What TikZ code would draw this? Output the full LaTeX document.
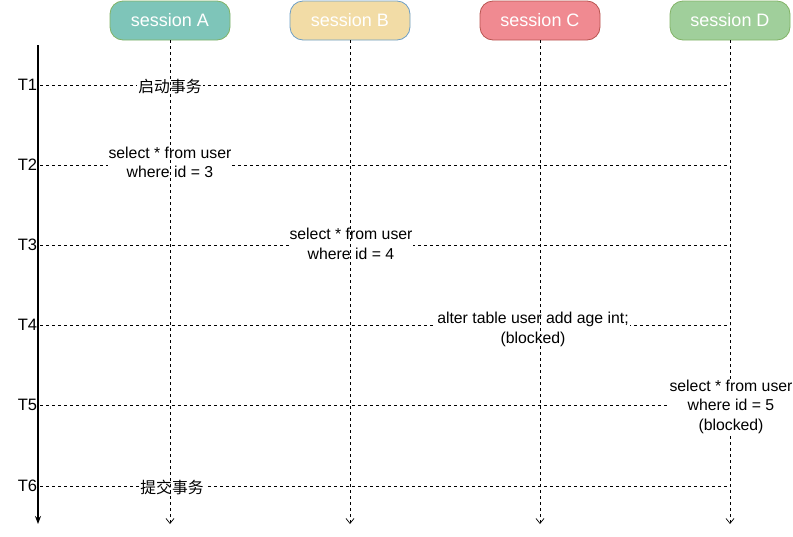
\documentclass[tikz,border=0pt]{standalone}
\usepackage{fontspec}
\setmainfont{Liberation Sans}
\newfontfamily\cjk{Noto Sans CJK SC}
\usetikzlibrary{arrows.meta}
\definecolor{fillA}{HTML}{7EC5B9}
\definecolor{fillB}{HTML}{F2DCA6}
\definecolor{fillC}{HTML}{F08A91}
\definecolor{fillD}{HTML}{A0CF9B}
\definecolor{lineA}{HTML}{82B366}
\definecolor{lineB}{HTML}{6C9EC6}
\definecolor{lineC}{HTML}{B85450}
\definecolor{lineD}{HTML}{82B366}
\tikzset{
  sess/.style={rounded corners=13pt, minimum width=120pt, minimum height=39pt, inner sep=0pt,
    text=white, font=\fontsize{18}{20}\selectfont, line width=0.8pt},
  tlabel/.style={font=\fontsize{16.5}{19}\selectfont, anchor=center},
  lbl/.style={font=\fontsize{15.8}{19.5}\selectfont, align=center, inner sep=1pt},
  wlbl/.style={lbl, fill=white},
  hline/.style={draw=black, line width=0.7pt, dash pattern=on 3pt off 3pt},
  life/.style={draw=black, line width=0.7pt, dash pattern=on 3pt off 3pt, -{Straight Barb[length=5pt,width=8pt]}},
  axis/.style={draw=black, line width=1.3pt, -{Stealth[length=8pt,width=6pt]}}
}
\begin{document}
\begin{tikzpicture}[x=1pt,y=-1pt]
\useasboundingbox (0,0) rectangle (793,536);
% time axis
\coordinate (axtop) at (38,45);
\coordinate (axbot) at (38,524);
\draw[axis] (axtop) -- (axbot);
% T labels and horizontal lines
\foreach \i/\y in {1/85,2/165,3/245,4/325,5/405,6/486}{
  \node[tlabel] (T\i) at (27.5,\y) {T\i};
  \coordinate (h\i s) at (40,\y);
  \coordinate (h\i e) at (730,\y);
  \draw[hline] (h\i s) -- (h\i e);
}
% labels (lifelines drawn over them)
\node[wlbl] (l1) at (170,87) {\cjk 启动事务};
\node[wlbl] (l2) at (170,162.5) {select * from user\\where id = 3};
\node[wlbl] (l3) at (351,244) {select * from user\\where id = 4};
\node[wlbl] (l4) at (533,329.5) {alter table user add age int;\\(blocked)};
\node[wlbl] (l6) at (172,487) {\cjk 提交事务};
% sessions
\node[sess, fill=fillA, draw=lineA] (sA) at (170,20.5) {session A};
\node[sess, fill=fillB, draw=lineB] (sB) at (350,20.5) {session B};
\node[sess, fill=fillC, draw=lineC] (sC) at (540,20.5) {session C};
\node[sess, fill=fillD, draw=lineD] (sD) at (730,20.5) {session D};
% lifelines
\foreach \s/\x in {A/170,B/350,C/540,D/730}{
  \coordinate (e\s) at (\x,524);
  \draw[life] (s\s.south) -- (e\s);
}
% T5 label covers lifeline D
\node[wlbl] (l5) at (731,406.5) {select * from user\\where id = 5\\(blocked)};
\end{tikzpicture}
\end{document}
